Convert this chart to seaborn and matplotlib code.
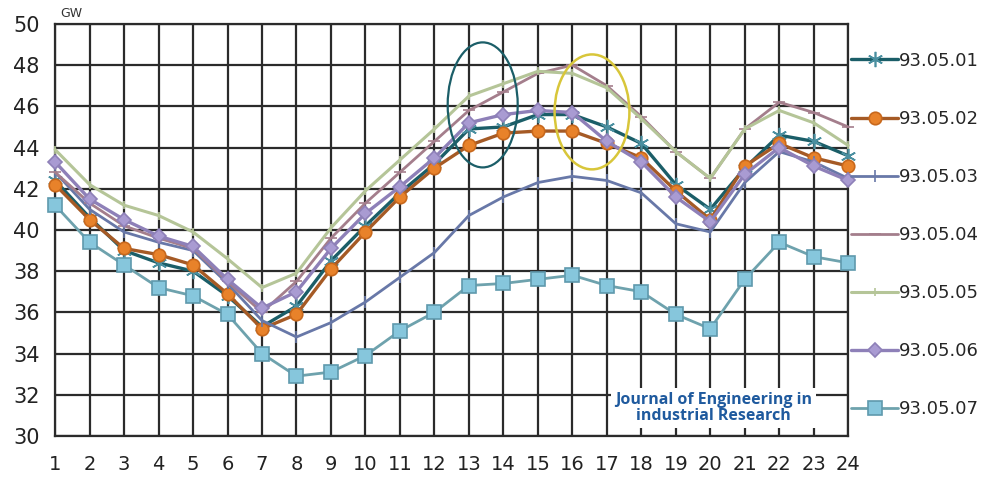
import numpy as np
import pandas as pd
import matplotlib.pyplot as plt
import seaborn as sns
from matplotlib.patches import Ellipse

sns.set_style("white")
plt.rcParams['font.family'] = ['DejaVu Sans']

hours = list(range(1, 25))

d01 = [42.4, 40.6, 39.0, 38.4, 38.0, 36.8, 35.3, 36.3, 38.5, 40.2, 41.8, 43.2,
       44.9, 45.0, 45.6, 45.6, 45.0, 44.2, 42.2, 41.0, 43.0, 44.6, 44.3, 43.6]
d02 = [42.2, 40.5, 39.1, 38.8, 38.3, 36.9, 35.2, 35.9, 38.1, 39.9, 41.6, 43.0,
       44.1, 44.7, 44.8, 44.8, 44.2, 43.5, 41.9, 40.5, 43.1, 44.2, 43.5, 43.1]
d03 = [42.8, 41.0, 39.9, 39.4, 39.0, 37.4, 35.6, 34.8, 35.5, 36.5, 37.7, 38.9,
       40.7, 41.6, 42.3, 42.6, 42.4, 41.8, 40.3, 39.9, 42.3, 43.8, 43.3, 42.5]
d04 = [42.8, 41.3, 40.2, 39.6, 39.1, 37.5, 36.0, 37.5, 39.6, 41.3, 42.8, 44.3,
       45.8, 46.7, 47.6, 48.0, 47.0, 45.5, 43.8, 42.5, 44.9, 46.2, 45.7, 45.0]
d05 = [43.9, 42.2, 41.2, 40.7, 39.9, 38.6, 37.2, 37.9, 40.1, 41.9, 43.4, 44.9,
       46.5, 47.1, 47.7, 47.6, 46.9, 45.4, 43.8, 42.5, 44.9, 45.8, 45.2, 44.1]
d06 = [43.3, 41.5, 40.5, 39.7, 39.2, 37.6, 36.2, 37.0, 39.1, 40.8, 42.1, 43.5,
       45.2, 45.6, 45.8, 45.7, 44.3, 43.3, 41.6, 40.4, 42.7, 44.0, 43.1, 42.4]
d07 = [41.2, 39.4, 38.3, 37.2, 36.8, 35.9, 34.0, 32.9, 33.1, 33.9, 35.1, 36.0,
       37.3, 37.4, 37.6, 37.8, 37.3, 37.0, 35.9, 35.2, 37.6, 39.4, 38.7, 38.4]

labels = ["93.05.01", "93.05.02", "93.05.03", "93.05.04",
          "93.05.05", "93.05.06", "93.05.07"]
series = [d01, d02, d03, d04, d05, d06, d07]

# line colour, marker, marker face, marker edge, marker size, line width
styles = [
    ("#1b5e68", (6, 2, 0), "#4a8fa0", "#4a8fa0", 11, 2.4),
    ("#a55a25", "o", "#e8822a", "#c8681c", 9, 2.4),
    ("#6878a8", "|", "#6878a8", "#6878a8", 9, 2.0),
    ("#a47e8c", "_", "#a47e8c", "#a47e8c", 8, 2.0),
    ("#b5c598", "|", "#b5c598", "#b5c598", 6, 2.2),
    ("#8e80b8", "D", "#a99bd2", "#8e80b8", 7, 2.4),
    ("#6ea2ad", "s", "#86c6dc", "#5f99ad", 10, 2.0),
]

fig = plt.figure(figsize=(9.84, 4.79), dpi=100)
ax = fig.add_axes([0.056, 0.09, 0.806, 0.86])

for vals, lab, st in zip(series, labels, styles):
    col, mk, mfc, mec, ms, lw = st
    sns.lineplot(x=hours, y=vals, ax=ax, color=col, marker=mk, markersize=ms,
                 markerfacecolor=mfc, markeredgecolor=mec, markeredgewidth=1.2,
                 linewidth=lw, label=lab, clip_on=False, zorder=3)

# highlighted regions
ax.add_patch(Ellipse((13.4, 46.07), 2.03, 6.07, fill=False,
                     edgecolor="#1b5e68", linewidth=1.6, zorder=5))
ax.add_patch(Ellipse((16.57, 45.73), 2.17, 5.58, fill=False,
                     edgecolor="#d8c63a", linewidth=1.8, zorder=5))

ax.set_xlim(1, 24)
ax.set_ylim(30, 50)
ax.set_xticks(hours)
ax.set_yticks(range(30, 51, 2))
ax.grid(True, color="#2b2b2b", linewidth=1.6)
ax.set_axisbelow(True)
for sp in ax.spines.values():
    sp.set_color("#2b2b2b")
    sp.set_linewidth(1.6)
ax.tick_params(axis="both", direction="out", length=6, width=1.6,
               color="#2b2b2b", labelcolor="#222222")
ax.tick_params(axis="y", labelsize=15, pad=5)
ax.tick_params(axis="x", labelsize=14, pad=8)
ax.set_xlabel("")
ax.set_ylabel("")

ax.text(1.15, 50.2, "GW", fontsize=9, color="#333333", ha="left", va="bottom")

ax.text(20.1, 31.35, "Journal of Engineering in\nindustrial Research",
        fontsize=11.5, fontweight="bold", color="#1f5a9e", ha="center",
        va="center", family=["Open Sans", "DejaVu Sans"], linespacing=1.0,
        bbox=dict(facecolor="white", edgecolor="none", pad=3), zorder=6)

ax.legend(loc="upper left", bbox_to_anchor=(0.995, 0.95), frameon=False,
          fontsize=13, labelspacing=2.22, handlelength=2.6, handletextpad=0.05,
          borderaxespad=0)

fig.savefig("out.png", dpi=100)
